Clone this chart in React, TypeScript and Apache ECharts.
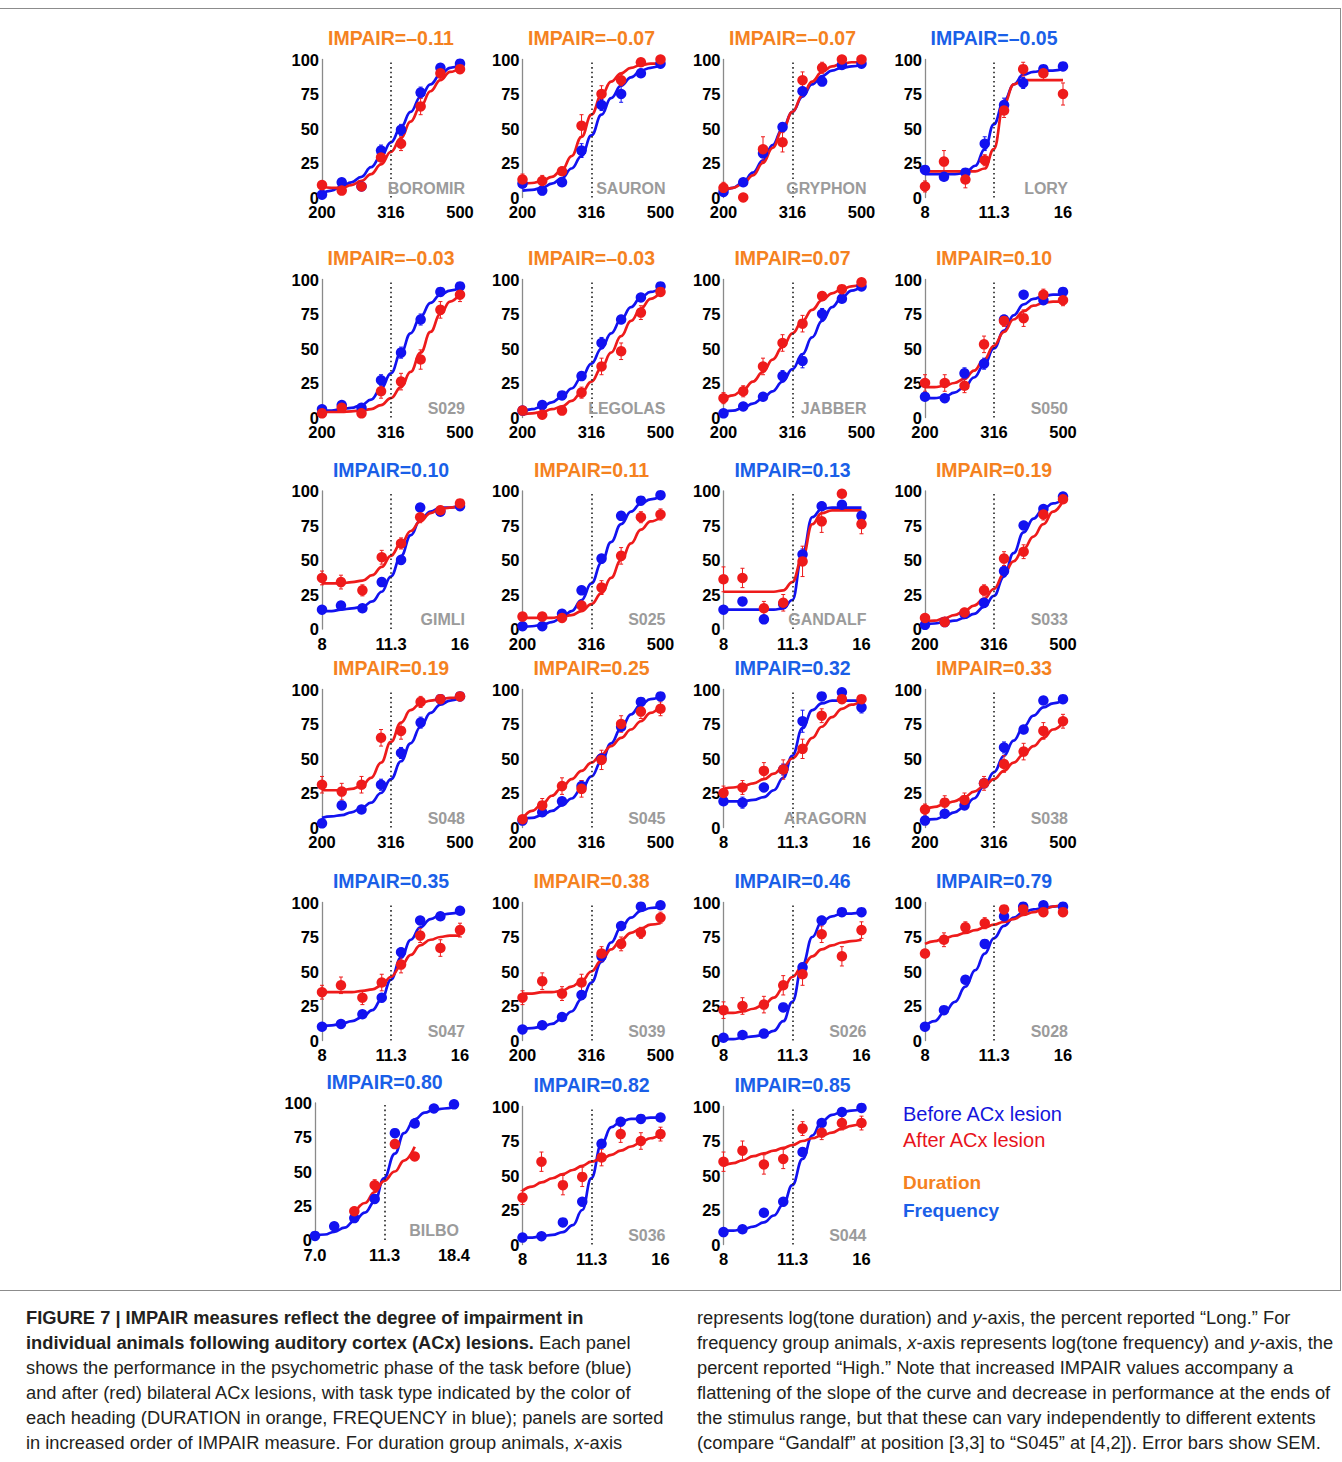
import React, { useEffect, useRef } from 'react';
import * as echarts from 'echarts';

// ---------- stimulus values (log-spaced) ----------
const durStim = [200, 228, 260, 296, 338, 385, 439, 500];
const freqStim = [8, 8.8, 9.8, 10.8, 11.9, 13.1, 14.5, 16];
const bilboStim = [7.0, 8.0, 9.2, 10.6, 12.2, 14.0, 16.0, 18.4];
// positions at which the fitted curves were read (stimuli and geometric midpoints)
const durFitX = [200, 213, 228, 243, 260, 277, 296, 316, 338, 360, 385, 411, 439, 468, 500];
const freqFitX = [8, 8.4, 8.8, 9.3, 9.8, 10.3, 10.8, 11.3, 11.9, 12.5, 13.1, 13.8, 14.5, 15.2, 16];
const bilboFitX = [7.0, 7.5, 8.0, 8.6, 9.2, 9.9, 10.6, 11.3, 12.2, 13.0, 14.0, 15.0, 16.0, 17.2, 18.4];
const durTicks = ['200', '316', '500'];
const freqTicks = ['8', '11.3', '16'];
const bilboTicks = ['7.0', '11.3', '18.4'];

// ---------- panels ----------
const animals = ['BOROMIR', 'SAURON', 'GRYPHON', 'LORY', 'S029', 'LEGOLAS', 'JABBER', 'S050', 'GIMLI', 'S025', 'GANDALF', 'S033', 'S048', 'S045', 'ARAGORN', 'S038', 'S047', 'S039', 'S026', 'S028', 'BILBO', 'S036', 'S044'];
const impair = ['\u20130.11', '\u20130.07', '\u20130.07', '\u20130.05', '\u20130.03', '\u20130.03', '0.07', '0.10', '0.10', '0.11', '0.13', '0.19', '0.19', '0.25', '0.32', '0.33', '0.35', '0.38', '0.46', '0.79', '0.80', '0.82', '0.85'];
const task = ['D', 'D', 'D', 'F', 'D', 'D', 'D', 'D', 'F', 'D', 'F', 'D', 'D', 'D', 'F', 'D', 'F', 'D', 'F', 'F', 'B', 'F', 'F'];

// percent "Long"/"High" before lesion (blue)
const bluePts = [
  [2, 11, 8, 34, 49, 76, 94, 97],
  [10, 5, 11, 34, 67, 75, 90, 97],
  [4, 11, 32, 51, 77, 84, 96, 97],
  [20, 15, 18, 39, 67, 83, 93, 95],
  [6, 9, 7, 27, 47, 71, 91, 95],
  [5, 9, 16, 30, 54, 71, 87, 95],
  [3, 8, 15, 30, 41, 75, 86, 95],
  [15, 14, 32, 39, 71, 89, 85, 91],
  [14, 17, 15, 34, 50, 88, 85, 89],
  [2, 2, 11, 28, 51, 82, 93, 97],
  [14, 20, 7, 18, 54, 89, 90, 82],
  [3, 5, 11, 19, 42, 75, 87, 96],
  [3, 16, 13, 31, 54, 76, 93, 95],
  [5, 11, 19, 30, 50, 73, 91, 95],
  [19, 18, 29, 42, 77, 95, 98, 87],
  [5, 10, 16, 32, 58, 71, 92, 93],
  [10, 12, 19, 31, 64, 87, 90, 94],
  [8, 11, 17, 33, 61, 83, 97, 98],
  [2, 4, 5, 24, 53, 87, 93, 93],
  [10, 22, 44, 70, 90, 97, 98, 97],
  [3, 10, 16, 30, 78, 85, 96, 99],
  [5, 6, 16, 31, 73, 89, 91, 92],
  [9, 11, 23, 31, 67, 88, 96, 99],
];
// after lesion (red)
const redPts = [
  [9, 5, 8, 29, 39, 66, 90, 93],
  [13, 12, 19, 52, 75, 85, 98, 100],
  [7, 0, 35, 40, 85, 94, 100, 100],
  [8, 26, 13, 27, 63, 93, 90, 75],
  [3, 7, 3, 19, 26, 42, 78, 89],
  [5, 2, 5, 18, 37, 48, 76, 91],
  [14, 19, 37, 54, 68, 88, 93, 98],
  [25, 25, 23, 53, 70, 72, 89, 85],
  [37, 34, 28, 52, 62, 81, 86, 91],
  [9, 9, 8, 17, 30, 53, 81, 83],
  [36, 37, 15, 19, 49, 78, 98, 76],
  [8, 5, 12, 28, 51, 56, 83, 94],
  [31, 26, 31, 65, 70, 91, 93, 95],
  [6, 16, 30, 28, 49, 75, 84, 86],
  [25, 29, 41, 42, 57, 81, 93, 93],
  [13, 18, 20, 32, 46, 55, 70, 77],
  [35, 40, 31, 42, 55, 76, 67, 80],
  [31, 43, 34, 42, 63, 70, 78, 89],
  [22, 25, 26, 40, 48, 77, 61, 80],
  [63, 73, 82, 85, 95, 95, 93, 93],
  [null, null, 21, 40, 70, 61, null, null],
  [34, 60, 43, 49, 63, 80, 75, 80],
  [60, 68, 58, 62, 84, 81, 88, 88],
];
// SEM (percentage points)
const blueErr = [
  [1, 2, 2, 4, 4, 4, 2, 1], [2, 3, 3, 5, 4, 6, 3, 1], [1, 2, 3, 3, 3, 2, 2, 1], [2, 2, 2, 5, 5, 4, 2, 1],
  [2, 2, 2, 4, 4, 4, 2, 1], [1, 2, 2, 3, 4, 3, 2, 1], [1, 2, 2, 4, 5, 4, 2, 1], [2, 2, 4, 4, 3, 2, 2, 1],
  [2, 2, 2, 3, 3, 2, 2, 1], [1, 1, 2, 3, 3, 2, 2, 1], [2, 2, 2, 3, 4, 3, 2, 2], [1, 1, 2, 3, 3, 3, 2, 1],
  [1, 3, 2, 4, 4, 4, 2, 1], [1, 2, 2, 4, 3, 3, 2, 1], [2, 4, 3, 4, 8, 2, 2, 4], [1, 2, 2, 3, 4, 3, 2, 1],
  [1, 1, 2, 3, 3, 2, 2, 1], [1, 1, 2, 3, 3, 2, 1, 1], [1, 1, 2, 3, 3, 3, 2, 1], [1, 2, 3, 3, 2, 1, 1, 1],
  [1, 1, 2, 3, 3, 2, 1, 1], [1, 1, 2, 3, 3, 2, 1, 1], [1, 1, 2, 3, 3, 2, 1, 1],
];
const redErr = [
  [2, 2, 2, 5, 5, 6, 4, 2], [4, 4, 3, 8, 6, 4, 2, 1], [4, 2, 9, 7, 6, 4, 2, 1], [4, 8, 6, 4, 5, 5, 5, 8],
  [2, 3, 2, 5, 6, 7, 6, 5], [2, 2, 2, 4, 6, 6, 5, 2], [4, 4, 6, 6, 6, 3, 2, 1], [6, 6, 5, 6, 4, 6, 4, 4],
  [5, 5, 4, 5, 4, 4, 3, 2], [2, 2, 2, 3, 5, 6, 4, 4], [9, 7, 5, 6, 11, 8, 2, 7], [2, 2, 3, 4, 5, 5, 4, 2],
  [6, 6, 6, 6, 6, 4, 3, 1], [2, 5, 6, 6, 7, 6, 5, 5], [5, 5, 6, 7, 7, 5, 3, 2], [4, 5, 5, 5, 6, 6, 6, 5],
  [5, 6, 5, 6, 6, 5, 6, 5], [5, 6, 5, 6, 5, 5, 4, 4], [6, 6, 6, 7, 8, 6, 7, 6], [3, 5, 4, 4, 2, 2, 2, 2],
  [0, 0, 3, 4, 3, 2, 0, 0], [5, 7, 7, 7, 6, 6, 6, 5], [7, 7, 7, 7, 5, 5, 5, 5],
];
// fitted psychometric curves, read at the 15 positions of the FitX lists
const blueFit = [
  [3, 5, 8, 11, 15, 22, 30, 40, 51, 62, 73, 82, 89, 94, 96],
  [5, 5.5, 7, 10, 14, 21, 30, 45, 60, 72, 81, 87, 92, 94, 96],
  [4, 7, 11, 18, 27, 38, 50, 62, 73, 82, 88, 92, 94, 95, 96],
  [17, 17, 17, 17, 18, 23, 35, 53, 70, 82, 89, 91, 92, 92, 93],
  [5, 5, 6, 7, 9, 13, 21, 32, 47, 61, 73, 83, 89, 92, 94],
  [4, 6, 8, 11, 15, 21, 29, 39, 50, 61, 71, 80, 87, 91, 94],
  [4, 5, 7, 10, 14, 19, 26, 35, 46, 58, 70, 80, 87, 92, 95],
  [14, 14, 15, 18, 22, 29, 38, 50, 63, 74, 82, 86, 88, 89, 89],
  [13, 13, 14, 15, 16, 20, 27, 38, 53, 68, 79, 85, 88, 88, 89],
  [1, 2, 3, 5, 8, 13, 21, 33, 48, 63, 76, 85, 91, 94, 96],
  [14, 14, 14, 14, 14, 14, 15, 21, 55, 81, 87, 88, 88, 88, 88],
  [3, 4, 5, 6, 8, 11, 16, 24, 38, 55, 70, 80, 87, 91, 94],
  [7, 8, 9, 11, 14, 18, 25, 35, 48, 61, 73, 83, 89, 92, 94],
  [6, 7, 9, 12, 16, 21, 28, 37, 48, 61, 72, 82, 89, 93, 95],
  [19, 19, 19, 20, 22, 27, 36, 52, 72, 85, 90, 92, 92, 92, 92],
  [5, 6, 8, 11, 15, 21, 30, 40, 52, 63, 73, 81, 87, 90, 92],
  [10, 11, 12, 14, 17, 22, 30, 44, 60, 73, 82, 88, 91, 92, 93],
  [8, 9, 10, 12, 16, 21, 30, 42, 57, 71, 82, 89, 94, 96, 97],
  [1, 1, 2, 3, 4, 7, 14, 28, 55, 75, 86, 90, 92, 92, 93],
  [10, 14, 20, 28, 39, 51, 63, 74, 83, 89, 93, 95, 96, 97, 98],
  [3, 4, 6, 9, 14, 20, 28, 45, 63, 78, 88, 93, 95, 96, 97],
  [5, 5, 6, 7, 9, 14, 25, 48, 73, 85, 89, 91, 91, 92, 92],
  [10, 10, 11, 13, 16, 21, 29, 43, 62, 79, 89, 94, 96, 97, 98],
];
const redFit = [
  [8, 7, 7, 9, 12, 17, 24, 33, 43, 55, 66, 77, 85, 91, 94],
  [10, 10.5, 12, 15, 20, 30, 44, 60, 74, 84, 90, 94, 96, 97, 97],
  [5, 7, 10, 16, 25, 36, 49, 62, 74, 84, 91, 95, 97, 98, 98],
  [19, 19, 19, 19, 19, 19, 21, 35, 68, 82, 85, 85, 85, 85, 85],
  [4, 4, 4, 4.5, 5, 6, 9, 14, 22, 33, 47, 62, 75, 84, 90],
  [2, 3, 4, 6, 8, 12, 18, 26, 36, 47, 59, 70, 79, 86, 91],
  [13, 16, 20, 26, 33, 42, 51, 61, 70, 78, 85, 90, 93, 95, 97],
  [22, 22, 23, 25, 28, 34, 42, 52, 62, 71, 77, 81, 83, 84, 84],
  [33, 33, 33, 34, 35, 39, 45, 53, 62, 71, 78, 84, 87, 88, 89],
  [8, 8, 8, 8, 9, 10, 13, 18, 26, 37, 50, 62, 72, 78, 81],
  [27, 27, 27, 27, 27, 27, 28, 34, 52, 76, 84, 86, 86, 86, 86],
  [5, 6, 8, 10, 13, 17, 22, 29, 40, 49, 58, 67, 76, 85, 93],
  [27, 27, 27, 28, 30, 36, 47, 62, 76, 85, 90, 92, 93, 94, 94],
  [6, 12, 17, 23, 29, 35, 41, 47, 53, 59, 65, 71, 77, 83, 89],
  [28, 29, 30, 32, 35, 39, 44, 50, 57, 65, 73, 80, 86, 89, 92],
  [13, 15, 17, 19, 22, 26, 30, 35, 41, 47, 53, 59, 65, 71, 76],
  [35, 35, 35, 35, 36, 37, 40, 46, 54, 62, 69, 73, 75, 76, 76],
  [34, 34, 35, 35, 36, 39, 43, 50, 58, 66, 73, 78, 81, 84, 85],
  [20, 20, 21, 23, 26, 31, 38, 46, 54, 61, 66, 69, 71, 72, 73],
  [70, 72, 74, 76, 78, 80, 82, 84, 86, 88, 91, 93, 95, 97, 99],
  [null, null, null, null, 19, 27, 35, 43, 50, 58, 68, null, null, null, null],
  [39, 42, 45, 48, 51, 54, 57, 60, 62, 65, 68, 71, 74, 77, 80],
  [57, 59, 61, 64, 66, 68, 70, 72, 75, 77, 79, 81, 84, 86, 88],
];

// ---------- layout & style ----------
const FONT = '"Liberation Sans", Arial, Helvetica, sans-serif';
const BLUE = '#1212f0';
const RED = '#ee1b1b';
const ORANGE = '#f5821f';
const TITLE_BLUE = '#1a5fe8';
const NAME_GRAY = '#9b9b9b';
const colLeft = [322, 522.5, 723.5, 925];
const rowTop = [59.5, 279.5, 491, 689.5, 902.5, 1106.5];
const PW = 138;
const PH = 138;
const AXIS_FS = 16.5;
const CAP_FS = 18.3;

function stimFor(t: string) {
  if (t === 'D') return { stim: durStim, fitX: durFitX, ticks: durTicks };
  if (t === 'B') return { stim: bilboStim, fitX: bilboFitX, ticks: bilboTicks };
  return { stim: freqStim, fitX: freqFitX, ticks: freqTicks };
}

function buildOption() {
  const grid: any[] = [];
  const xAxis: any[] = [];
  const yAxis: any[] = [];
  const series: any[] = [];
  const elements: any[] = [];

  animals.forEach((name, i) => {
    const row = Math.floor(i / 4);
    const col = i % 4;
    let left = colLeft[col];
    let top = rowTop[row];
    let w = PW;
    let h = PH;
    if (task[i] === 'B') { left = 315; top = 1103; w = 139; h = 137; }
    const { stim, fitX, ticks } = stimFor(task[i]);
    const lo = stim[0];
    const hi = stim[stim.length - 1];
    const toX = (v: number) => (2 * Math.log(v / lo)) / Math.log(hi / lo);

    grid.push({ left, top, width: w, height: h, containLabel: false });
    xAxis.push({
      type: 'value', gridIndex: i, min: 0, max: 2, interval: 1,
      axisLine: { show: false }, axisTick: { show: false }, splitLine: { show: false },
      axisLabel: {
        margin: 6, color: '#000', fontWeight: 'bold', fontSize: AXIS_FS, fontFamily: FONT,
        formatter: (v: number) => ticks[Math.round(v)] ?? '',
      },
    });
    yAxis.push({
      type: 'value', gridIndex: i, min: 0, max: 100, interval: 25,
      axisLine: { show: true, lineStyle: { color: '#8a8a8a', width: 1.3 } },
      axisTick: { show: false }, splitLine: { show: false },
      axisLabel: { margin: 3, color: '#000', fontWeight: 'bold', fontSize: AXIS_FS, fontFamily: FONT },
    });

    const fitData = (arr: (number | null)[]) =>
      arr.map((y, k) => [toX(fitX[k]), y]).filter((p) => p[1] !== null);
    const ptData = (arr: (number | null)[]) =>
      arr.map((y, k) => [toX(stim[k]), y]).filter((p) => p[1] !== null);
    const errData = (arr: (number | null)[], err: number[]) =>
      arr.map((y, k) => (y === null ? null : [toX(stim[k]), (y as number) - err[k], (y as number) + err[k]]))
        .filter((p) => p !== null && p[2] - p[1] > 0);

    const lineSeries = (data: any[], color: string, withMark: boolean) => ({
      type: 'line', xAxisIndex: i, yAxisIndex: i, data, smooth: 0.45, smoothMonotone: 'x',
      showSymbol: false, symbol: 'none', silent: true, z: 2,
      lineStyle: { color, width: 2.7 },
      markLine: withMark ? {
        silent: true, symbol: 'none', label: { show: false },
        lineStyle: { type: [1.6, 3], color: '#222', width: 1.6 },
        data: [{ xAxis: 1 }],
      } : undefined,
    });
    const errSeries = (data: any[], color: string) => ({
      type: 'custom', xAxisIndex: i, yAxisIndex: i, z: 3, silent: true, clip: false,
      encode: { x: 0, y: [1, 2] },
      data,
      renderItem: (params: any, api: any) => {
        const x = api.value(0);
        const p1 = api.coord([x, api.value(2)]);
        const p2 = api.coord([x, api.value(1)]);
        const c = 2;
        const st = { stroke: color, lineWidth: 1 };
        return {
          type: 'group',
          children: [
            { type: 'line', shape: { x1: p1[0], y1: p1[1], x2: p2[0], y2: p2[1] }, style: st },
            { type: 'line', shape: { x1: p1[0] - c, y1: p1[1], x2: p1[0] + c, y2: p1[1] }, style: st },
            { type: 'line', shape: { x1: p2[0] - c, y1: p2[1], x2: p2[0] + c, y2: p2[1] }, style: st },
          ],
        };
      },
    });
    const scatterSeries = (data: any[], color: string) => ({
      type: 'scatter', xAxisIndex: i, yAxisIndex: i, data, symbolSize: 10.5, silent: true, z: 4,
      itemStyle: { color, opacity: 1 },
    });

    series.push(lineSeries(fitData(blueFit[i]), BLUE, true));
    series.push(errSeries(errData(bluePts[i], blueErr[i]), BLUE));
    series.push(scatterSeries(ptData(bluePts[i]), BLUE));
    series.push(lineSeries(fitData(redFit[i]), RED, false));
    series.push(errSeries(errData(redPts[i], redErr[i]), RED));
    series.push(scatterSeries(ptData(redPts[i]), RED));

    elements.push({
      type: 'text', x: left + w / 2, y: top - 21.5, silent: true,
      style: {
        text: 'IMPAIR=' + impair[i], fill: task[i] === 'D' ? ORANGE : TITLE_BLUE,
        font: 'bold 19.5px ' + FONT, textAlign: 'center', textVerticalAlign: 'middle',
      },
    });
    elements.push({
      type: 'text', x: left + w + 5, y: top + h - 9.5, silent: true, z: 10,
      style: {
        text: name, fill: NAME_GRAY, font: 'bold 16px ' + FONT,
        textAlign: 'right', textVerticalAlign: 'middle',
      },
    });
  });

  // legend texts
  const legend = [
    { t: 'Before ACx lesion', y: 1114, c: '#1414dc', f: '20px ' + FONT },
    { t: 'After ACx lesion', y: 1140, c: '#e8141c', f: '20px ' + FONT },
    { t: 'Duration', y: 1182, c: ORANGE, f: 'bold 19px ' + FONT },
    { t: 'Frequency', y: 1210, c: TITLE_BLUE, f: 'bold 19px ' + FONT },
  ];
  legend.forEach((l) => {
    elements.push({
      type: 'text', x: 903, y: l.y, silent: true,
      style: { text: l.t, fill: l.c, font: l.f, textAlign: 'left', textVerticalAlign: 'middle' },
    });
  });

  // frame lines
  const frameStyle = { stroke: '#8c8c8c', lineWidth: 1 };
  elements.push({ type: 'line', silent: true, shape: { x1: 0, y1: 8.5, x2: 1341, y2: 8.5 }, style: frameStyle });
  elements.push({ type: 'line', silent: true, shape: { x1: 1340.5, y1: 8.5, x2: 1340.5, y2: 1290.5 }, style: frameStyle });
  elements.push({ type: 'line', silent: true, shape: { x1: 0, y1: 1290.5, x2: 1341, y2: 1290.5 }, style: frameStyle });

  // caption
  const rich = {
    b: { font: `bold ${CAP_FS}px ${FONT}`, fill: '#231f20' },
    n: { font: `${CAP_FS}px ${FONT}`, fill: '#231f20' },
    i: { font: `italic ${CAP_FS}px ${FONT}`, fill: '#231f20' },
  };
  const leftLines = [
    '{b|FIGURE 7 | IMPAIR measures reflect the degree of impairment in}',
    '{b|individual animals following auditory cortex (ACx) lesions.}{n| Each panel}',
    '{n|shows the performance in the psychometric phase of the task before (blue)}',
    '{n|and after (red) bilateral ACx lesions, with task type indicated by the color of}',
    '{n|each heading (DURATION in orange, FREQUENCY in blue); panels are sorted}',
    '{n|in increased order of IMPAIR measure. For duration group animals, }{i|x}{n|-axis}',
  ];
  const rightLines = [
    '{n|represents log(tone duration) and }{i|y}{n|-axis, the percent reported \u201cLong.\u201d For}',
    '{n|frequency group animals, }{i|x}{n|-axis represents log(tone frequency) and }{i|y}{n|-axis, the}',
    '{n|percent reported \u201cHigh.\u201d Note that increased IMPAIR values accompany a}',
    '{n|flattening of the slope of the curve and decrease in performance at the ends of}',
    '{n|the stimulus range, but that these can vary independently to different extents}',
    '{n|(compare \u201cGandalf\u201d at position [3,3] to \u201cS045\u201d at [4,2]). Error bars show SEM.}',
  ];
  leftLines.forEach((t, k) => {
    elements.push({
      type: 'text', x: 26, y: 1317 + k * 25, silent: true,
      style: { text: t, rich, font: `${CAP_FS}px ${FONT}`, fill: '#231f20', textAlign: 'left', textVerticalAlign: 'middle' },
    });
  });
  rightLines.forEach((t, k) => {
    elements.push({
      type: 'text', x: 697, y: 1317 + k * 25, silent: true,
      style: { text: t, rich, font: `${CAP_FS}px ${FONT}`, fill: '#231f20', textAlign: 'left', textVerticalAlign: 'middle' },
    });
  });

  return {
    animation: false,
    backgroundColor: '#ffffff',
    textStyle: { fontFamily: FONT },
    grid, xAxis, yAxis, series,
    graphic: { elements },
  };
}

export default function App() {
  const ref = useRef<HTMLDivElement>(null);
  useEffect(() => {
    if (!ref.current) return;
    const chart = echarts.init(ref.current, null, { renderer: 'svg' });
    chart.setOption(buildOption() as any);
    return () => chart.dispose();
  }, []);
  return (
    <div
      ref={ref}
      style={{ position: 'absolute', left: 0, top: 0, width: 1342, height: 1462 }}
    />
  );
}
